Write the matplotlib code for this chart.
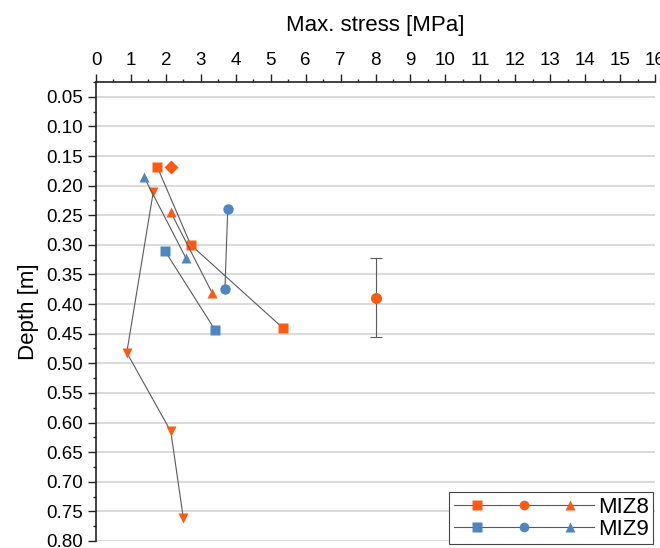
import matplotlib.pyplot as plt
from matplotlib.lines import Line2D
from matplotlib.legend_handler import HandlerTuple
from matplotlib.ticker import MultipleLocator

plt.rcParams['font.family'] = ['Liberation Sans', 'DejaVu Sans']

ORANGE = '#FF5A14'
BLUE = '#4D86C0'
LINE = '#5a5a5a'

# MIZ8 series
miz8_sq_x = [1.75, 2.71, 5.36]
miz8_sq_y = [0.168, 0.300, 0.441]
miz8_ci_x = [8.0]
miz8_ci_y = [0.389]
miz8_ci_err = [0.067]
miz8_tr_x = [2.14, 3.33]
miz8_tr_y = [0.245, 0.382]
miz8_dn_x = [1.64, 0.88, 2.14, 2.50]
miz8_dn_y = [0.210, 0.482, 0.615, 0.762]
miz8_di_x = [2.14]
miz8_di_y = [0.168]

# MIZ9 series
miz9_sq_x = [1.97, 3.41]
miz9_sq_y = [0.310, 0.444]
miz9_ci_x = [3.77, 3.69]
miz9_ci_y = [0.239, 0.374]
miz9_tr_x = [1.38, 2.57]
miz9_tr_y = [0.186, 0.322]

fig = plt.figure(figsize=(6.6, 5.48), dpi=100)
ax = fig.add_axes([0.1455, 0.0128, 0.8470, 0.8376])

kw = dict(color=LINE, lw=0.8, ms=7.5, mec='none')
ax.plot(miz8_sq_x, miz8_sq_y, marker='s', mfc=ORANGE, **kw)
ax.plot(miz8_tr_x, miz8_tr_y, marker='^', mfc=ORANGE, **kw)
ax.plot(miz8_dn_x, miz8_dn_y, marker='v', mfc=ORANGE, **kw)
ax.plot(miz8_di_x, miz8_di_y, marker='D', mfc=ORANGE, color=LINE, lw=0, ms=7, mec='none')
ax.errorbar(miz8_ci_x, miz8_ci_y, yerr=miz8_ci_err, fmt='o', mfc=ORANGE, mec='none',
            ms=8, ecolor=LINE, elinewidth=0.8, capsize=4.5, capthick=0.8)

ax.plot(miz9_sq_x, miz9_sq_y, marker='s', mfc=BLUE, **kw)
ax.plot(miz9_ci_x, miz9_ci_y, marker='o', mfc=BLUE, **kw)
ax.plot(miz9_tr_x, miz9_tr_y, marker='^', mfc=BLUE, **kw)

ax.set_xlim(0, 16)
ax.set_ylim(0.80, 0.025)
ax.xaxis.tick_top()
ax.xaxis.set_label_position('top')
ax.xaxis.set_major_locator(MultipleLocator(1))
ax.xaxis.set_minor_locator(MultipleLocator(0.5))
ax.yaxis.set_major_locator(MultipleLocator(0.05))
ax.yaxis.set_minor_locator(MultipleLocator(0.025))
ax.yaxis.set_major_formatter(plt.FormatStrFormatter('%.2f'))
ax.tick_params(which='major', length=6, width=1, labelsize=13.5, color='#222222', pad=3.5)
ax.tick_params(which='minor', length=2.5, width=1, color='#222222')
ax.set_xlabel('Max. stress [MPa]', fontsize=16, labelpad=15)
ax.set_ylabel('Depth [m]', fontsize=16, labelpad=5)
ax.grid(axis='y', which='major', color='#d4d4d4', lw=1.2)
ax.set_axisbelow(True)
for s in ['right', 'bottom']:
    ax.spines[s].set_visible(False)
for s in ['top', 'left']:
    ax.spines[s].set_linewidth(1.2)
    ax.spines[s].set_color('#222222')


def h(mk, c):
    return Line2D([], [], color=LINE, lw=0.8, marker=mk, mfc=c, mec='none', ms=7)


handles = [(h('s', ORANGE), h('o', ORANGE), h('^', ORANGE)),
           (h('s', BLUE), h('o', BLUE), h('^', BLUE))]
leg = fig.legend(handles, ['MIZ8', 'MIZ9'], loc='lower right',
                 bbox_to_anchor=(0.99, 0.007), fontsize=16,
                 handler_map={tuple: HandlerTuple(ndivide=None, pad=0)},
                 handlelength=6.3, handletextpad=0.2, labelspacing=0.05,
                 borderpad=0.2, borderaxespad=0, fancybox=False,
                 edgecolor='#444444', framealpha=1)
leg.get_frame().set_linewidth(0.8)

fig.savefig('out.png', dpi=100)
